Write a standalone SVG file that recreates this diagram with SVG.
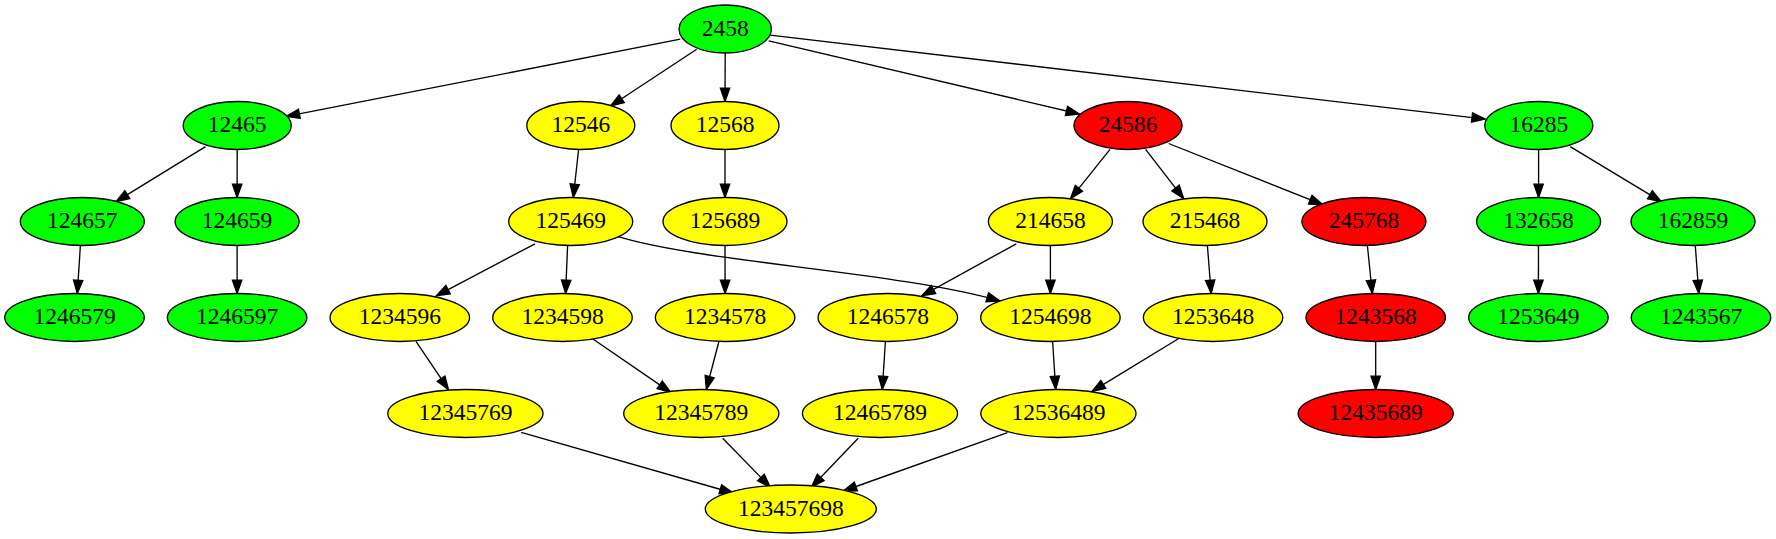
<svg xmlns="http://www.w3.org/2000/svg" width="1776" height="539" viewBox="0 0 1776 539">
<style>
.n ellipse{stroke:#000;stroke-width:1.33}
.g ellipse{fill:#00ff00}
.y ellipse{fill:#ffff00}
.r ellipse{fill:#ff0000}
.n text{font-family:"Liberation Serif","Times New Roman",serif;font-size:23.5px;text-anchor:middle;fill:#000}
#edges path{fill:none;stroke:#000;stroke-width:1.33;marker-end:url(#ah)}
</style>
<defs>
<marker id="ah" markerUnits="userSpaceOnUse" markerWidth="16" markerHeight="12" refX="13.3" refY="4.67" orient="auto" overflow="visible">
<path d="M0,0 L13.3,4.67 L0,9.33 z" fill="#000" stroke="#000" stroke-width="1.33"/>
</marker>
</defs>
<rect width="1776" height="539" fill="#fff"/>
<g id="edges">
<path d="M680.3,39.2 L286.3,116.4"/>
<path d="M696.7,49.3 L610.6,106"/>
<path d="M725.2,53 L725,101.5"/>
<path d="M768.7,40.9 L1079.4,114"/>
<path d="M770.2,35.2 L1485.2,119.1"/>
<path d="M205.5,146.6 L116,201.6"/>
<path d="M237.2,149.5 L237.1,197.5"/>
<path d="M578.6,149.5 L573.3,197.5"/>
<path d="M725,149.5 L725,197.5"/>
<path d="M1110,149.3 L1070.6,198.6"/>
<path d="M1145.6,149.3 L1183.7,198.6"/>
<path d="M1168.6,143.5 L1322.6,204.6"/>
<path d="M1538.6,149.5 L1538.6,197.5"/>
<path d="M1570.2,146.6 L1661.3,201.6"/>
<path d="M80.4,245.5 L77.3,293.5"/>
<path d="M237.1,245.5 L237.1,293.5"/>
<path d="M535,243.8 L436.3,295.8"/>
<path d="M567.6,245.5 L565.6,293.5"/>
<path d="M618.3,236.7 C700,262 900,272 1000,301"/>
<path d="M725,245.5 L725.1,293.5"/>
<path d="M1016.3,243.8 L921.8,295.8"/>
<path d="M1050.4,245.5 L1050.4,293.5"/>
<path d="M1207.4,245.5 L1211.2,293.5"/>
<path d="M1367.4,245.5 L1372.3,293.5"/>
<path d="M1538.5,245.5 L1538.4,293.5"/>
<path d="M1695.3,245.5 L1698.8,293.5"/>
<path d="M416,341.4 L448.5,389.7"/>
<path d="M592.9,339 L670.7,392.4"/>
<path d="M718.9,341.5 L706.3,389.5"/>
<path d="M885.4,341.5 L882.3,389.5"/>
<path d="M1052.6,341.5 L1055.7,389.5"/>
<path d="M1180,337.8 L1092,391.4"/>
<path d="M1375.7,341.5 L1375.7,389.5"/>
<path d="M521.2,432.3 L733.1,493"/>
<path d="M722.7,438.2 L770.2,487"/>
<path d="M858.2,438.2 L811.5,487"/>
<path d="M1007.5,432.7 L843.3,491"/>
</g>
<g id="n2458" class="n g"><ellipse cx="725.2" cy="29" rx="46.2" ry="24"/><text x="725.2" y="35.5">2458</text></g>
<g id="n12465" class="n g"><ellipse cx="237.2" cy="125.5" rx="54" ry="24"/><text x="237.2" y="132">12465</text></g>
<g id="n12546" class="n y"><ellipse cx="580.8" cy="125.5" rx="54" ry="24"/><text x="580.8" y="132">12546</text></g>
<g id="n12568" class="n y"><ellipse cx="725" cy="125.5" rx="54" ry="24"/><text x="725" y="132">12568</text></g>
<g id="n24586" class="n r"><ellipse cx="1128" cy="125.5" rx="54" ry="24"/><text x="1128" y="132">24586</text></g>
<g id="n16285" class="n g"><ellipse cx="1538.8" cy="125.5" rx="54" ry="24"/><text x="1538.8" y="132">16285</text></g>
<g id="n124657" class="n g"><ellipse cx="82.3" cy="221.5" rx="62" ry="24"/><text x="82.3" y="228">124657</text></g>
<g id="n124659" class="n g"><ellipse cx="237.1" cy="221.5" rx="62" ry="24"/><text x="237.1" y="228">124659</text></g>
<g id="n125469" class="n y"><ellipse cx="570.7" cy="221.5" rx="62" ry="24"/><text x="570.7" y="228">125469</text></g>
<g id="n125689" class="n y"><ellipse cx="725" cy="221.5" rx="62" ry="24"/><text x="725" y="228">125689</text></g>
<g id="n214658" class="n y"><ellipse cx="1050.4" cy="221.5" rx="62" ry="24"/><text x="1050.4" y="228">214658</text></g>
<g id="n215468" class="n y"><ellipse cx="1205" cy="221.5" rx="62" ry="24"/><text x="1205" y="228">215468</text></g>
<g id="n245768" class="n r"><ellipse cx="1363.9" cy="221.5" rx="62" ry="24"/><text x="1363.9" y="228">245768</text></g>
<g id="n132658" class="n g"><ellipse cx="1538.6" cy="221.5" rx="62" ry="24"/><text x="1538.6" y="228">132658</text></g>
<g id="n162859" class="n g"><ellipse cx="1693" cy="221.5" rx="62" ry="24"/><text x="1693" y="228">162859</text></g>
<g id="n1246579" class="n g"><ellipse cx="74.5" cy="317.5" rx="69.75" ry="24"/><text x="74.5" y="324">1246579</text></g>
<g id="n1246597" class="n g"><ellipse cx="237.1" cy="317.5" rx="69.75" ry="24"/><text x="237.1" y="324">1246597</text></g>
<g id="n1234596" class="n y"><ellipse cx="399.8" cy="317.5" rx="69.75" ry="24"/><text x="399.8" y="324">1234596</text></g>
<g id="n1234598" class="n y"><ellipse cx="562.5" cy="317.5" rx="69.75" ry="24"/><text x="562.5" y="324">1234598</text></g>
<g id="n1234578" class="n y"><ellipse cx="725.1" cy="317.5" rx="69.75" ry="24"/><text x="725.1" y="324">1234578</text></g>
<g id="n1246578" class="n y"><ellipse cx="887.8" cy="317.5" rx="69.75" ry="24"/><text x="887.8" y="324">1246578</text></g>
<g id="n1254698" class="n y"><ellipse cx="1050.4" cy="317.5" rx="69.75" ry="24"/><text x="1050.4" y="324">1254698</text></g>
<g id="n1253648" class="n y"><ellipse cx="1213.1" cy="317.5" rx="69.75" ry="24"/><text x="1213.1" y="324">1253648</text></g>
<g id="n1243568" class="n r"><ellipse cx="1375.7" cy="317.5" rx="69.75" ry="24"/><text x="1375.7" y="324">1243568</text></g>
<g id="n1253649" class="n g"><ellipse cx="1538.4" cy="317.5" rx="69.75" ry="24"/><text x="1538.4" y="324">1253649</text></g>
<g id="n1243567" class="n g"><ellipse cx="1701" cy="317.5" rx="69.75" ry="24"/><text x="1701" y="324">1243567</text></g>
<g id="n12345769" class="n y"><ellipse cx="465.4" cy="413.5" rx="77.6" ry="24"/><text x="465.4" y="420">12345769</text></g>
<g id="n12345789" class="n y"><ellipse cx="701.3" cy="413.5" rx="77.6" ry="24"/><text x="701.3" y="420">12345789</text></g>
<g id="n12465789" class="n y"><ellipse cx="880" cy="413.5" rx="77.6" ry="24"/><text x="880" y="420">12465789</text></g>
<g id="n12536489" class="n y"><ellipse cx="1058.4" cy="413.5" rx="77.6" ry="24"/><text x="1058.4" y="420">12536489</text></g>
<g id="n12435689" class="n r"><ellipse cx="1375.7" cy="413.5" rx="77.6" ry="24"/><text x="1375.7" y="420">12435689</text></g>
<g id="n123457698" class="n y"><ellipse cx="790.8" cy="509" rx="85.5" ry="24"/><text x="790.8" y="515.5">123457698</text></g>
</svg>
